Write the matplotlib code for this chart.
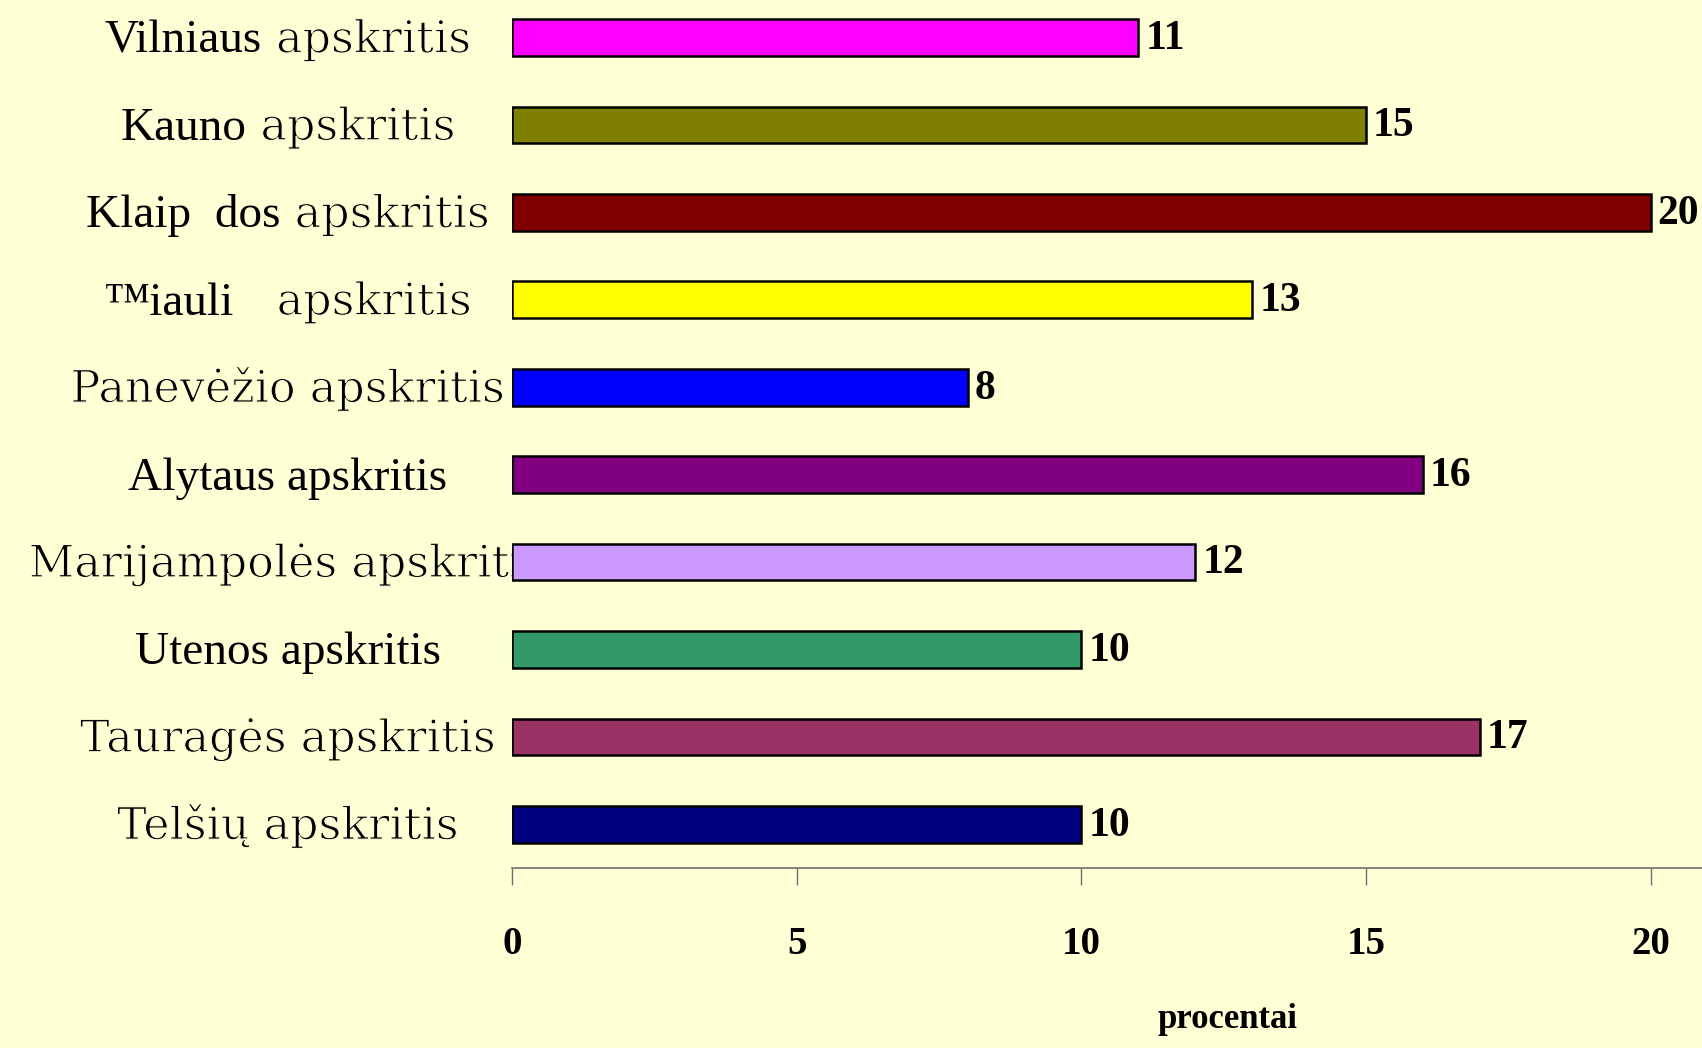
import matplotlib
matplotlib.use('Agg')
import matplotlib.pyplot as plt
import matplotlib.transforms as mtransforms
import matplotlib.patheffects as pe
import numpy as np

# data (top to bottom)
label_heavy = ['Vilniaus', 'Kauno', 'Klaip  dos', '\u2122iauli', '',
               'Alytaus apskritis', '', 'Utenos apskritis', '', '']
label_light = [' apskritis', ' apskritis', ' apskritis', '   apskritis',
               'Panevėžio apskritis', '', 'Marijampolės apskritis', '',
               'Tauragės apskritis', 'Telšių apskritis']
values = [11, 15, 20, 13, 8, 16, 12, 10, 17, 10]
colors = ['#FF00FF', '#808000', '#800000', '#FFFF00', '#0000FF',
          '#800080', '#CC99FF', '#339966', '#993366', '#000080']
xticks = [0, 5, 10, 15, 20]

bg = '#FFFFD5'
W, H = 1702, 1048

fig = plt.figure(figsize=(W / 100, H / 100), dpi=100, facecolor=bg)
ax = fig.add_axes([512 / W, (H - 868) / H, (W - 512) / W, 868 / H])
ax.set_facecolor(bg)

y = np.arange(len(values))
bars = ax.barh(y, values, height=0.42, color=colors, edgecolor='black',
               linewidth=1.8, zorder=3)

ax.set_xlim(0, 20.9)
ax.set_ylim(len(values) - 0.5, -0.43)

for b, v in zip(bars, values):
    ax.annotate(str(v), xy=(v, b.get_y() + b.get_height() / 2),
                xytext=(5, -1), textcoords='offset points', ha='left', va='center',
                fontsize=30, fontweight='bold', family='Liberation Serif')

for s in ['left', 'top', 'right']:
    ax.spines[s].set_visible(False)
ax.spines['bottom'].set_color('#707070')
ax.spines['bottom'].set_linewidth(1.2)
ax.set_yticks([])
ax.set_xticks(xticks)
ax.set_xticklabels([str(t) for t in xticks], fontsize=28, fontweight='bold',
                   family='Liberation Serif')
ax.tick_params(axis='x', direction='out', length=12, width=1, color='#707070', pad=30)

fig.text(1227 / W, 1 - 1020 / H, 'procentai', ha='center', va='center',
         fontsize=25, fontweight='bold', family='Liberation Serif')

# category labels: two fonts per label, block centred at x_c
renderer = fig.canvas.get_renderer()
trans = mtransforms.blended_transform_factory(fig.transFigure, ax.transData)
x_c = 288
for i, (hv, lt) in enumerate(zip(label_heavy, label_light)):
    t1 = ax.text(0, i + 0.17, hv, ha='right', va='baseline', fontsize=34,
                 family='Liberation Serif', transform=trans, zorder=1, clip_on=False)
    t2 = ax.text(0, i + 0.17, lt, ha='left', va='baseline', fontsize=32,
                 family='DejaVu Serif', transform=trans, zorder=1, clip_on=False,
                 path_effects=[pe.Stroke(linewidth=0.8, foreground=bg)])
    w1 = t1.get_window_extent(renderer).width if hv else 0
    w2 = t2.get_window_extent(renderer).width if lt else 0
    xj = (x_c - (w1 + w2) / 2 + w1) / W
    t1.set_x(xj)
    t2.set_x(xj)

fig.savefig('out.png', dpi=100, facecolor=bg)
